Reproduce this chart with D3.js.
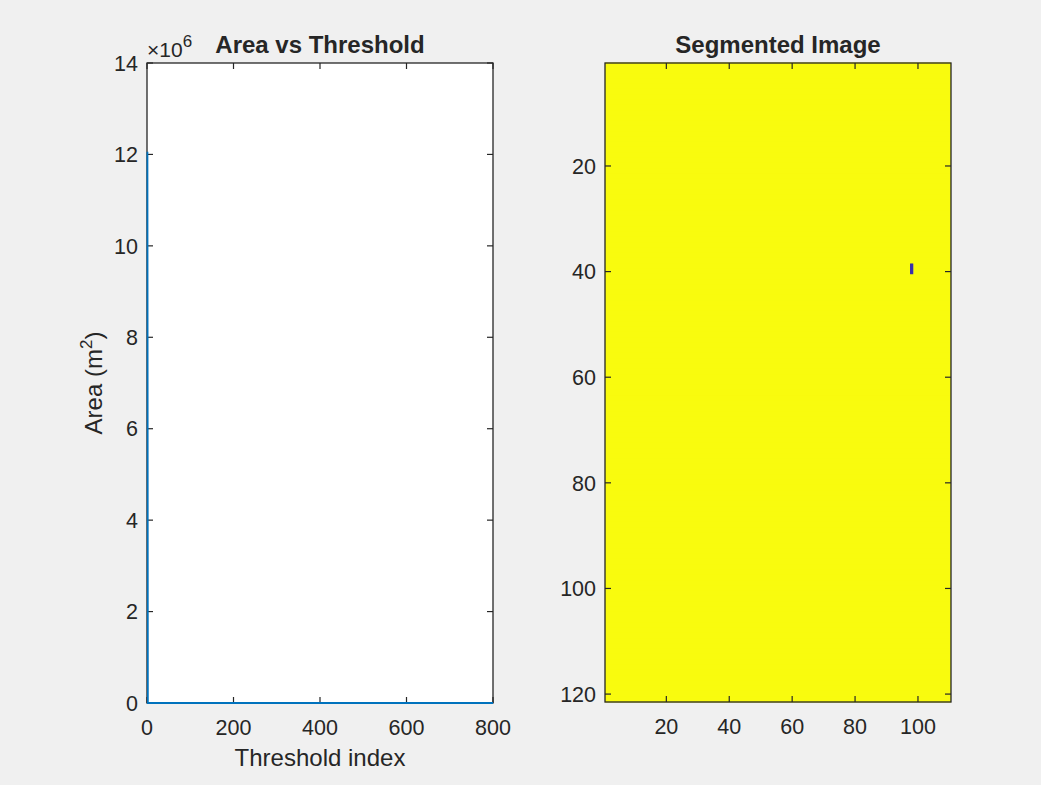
<!DOCTYPE html>
<html>
<head>
<meta charset="utf-8">
<script src="https://cdn.jsdelivr.net/npm/d3@7"></script>
<style>
  html, body { margin: 0; padding: 0; background: #F0F0F0; }
  svg { display: block; }
  text { font-family: "Liberation Sans", Arial, Helvetica, sans-serif; fill: #262626; }
</style>
</head>
<body>
<script>
// ---------- data ----------
// Area vs Threshold (sparse description of the plotted curve)
const thresholdIndex = [1, 2, 800];
const areaValues = [12.06e6, 0, 0];
const areaXTicks = [0, 200, 400, 600, 800];
const areaYTicks = [0, 2e6, 4e6, 6e6, 8e6, 10e6, 12e6, 14e6];
const areaExponent = 6;

// Segmented image (binary, 121 rows x 110 columns)
const imageRows = 121;
const imageCols = 110;
const backgroundValue = 1;
const blobPixels = [[98, 39], [98, 40]]; // [column, row] pixels with value 0
const imageXTicks = [20, 40, 60, 80, 100];
const imageYTicks = [20, 40, 60, 80, 100, 120];
const colormap = ["#3A30AA", "#F9FB0E"];

// ---------- layout ----------
const W = 1041, H = 785;
const axisColor = "#262626";
const tickLen = 6;
const tickFont = 21.5, labelFont = 24, titleFont = 24;

const svg = d3.select("body").append("svg").attr("width", W).attr("height", H);
svg.append("rect").attr("width", W).attr("height", H).attr("fill", "#F0F0F0");

function boxAxes(g, x, y, xTicks, yTicks, xFmt, yFmt) {
  const [x0, x1] = x.range();
  const [yb, yt] = [Math.max(...y.range()), Math.min(...y.range())];
  const tk = g.append("g").attr("stroke", axisColor).attr("stroke-width", 1.2);
  xTicks.forEach(v => {
    const px = x(v);
    tk.append("line").attr("x1", px).attr("x2", px).attr("y1", yb).attr("y2", yb - tickLen);
    tk.append("line").attr("x1", px).attr("x2", px).attr("y1", yt).attr("y2", yt + tickLen);
  });
  yTicks.forEach(v => {
    const py = y(v);
    tk.append("line").attr("x1", x0).attr("x2", x0 + tickLen).attr("y1", py).attr("y2", py);
    tk.append("line").attr("x1", x1).attr("x2", x1 - tickLen).attr("y1", py).attr("y2", py);
  });
  g.append("rect").attr("x", x0).attr("y", yt).attr("width", x1 - x0).attr("height", yb - yt)
    .attr("fill", "none").attr("stroke", axisColor).attr("stroke-width", 1.3);
  g.append("g").selectAll("text").data(xTicks).join("text")
    .attr("x", d => x(d)).attr("y", yb + 32).attr("text-anchor", "middle")
    .attr("font-size", tickFont).attr("fill", "#333").text(xFmt);
  g.append("g").selectAll("text").data(yTicks).join("text")
    .attr("x", x0 - 9).attr("y", d => y(d)).attr("dy", "0.36em").attr("text-anchor", "end")
    .attr("font-size", tickFont).attr("fill", "#333").text(yFmt);
}

// ---------- left: Area vs Threshold ----------
{
  const x = d3.scaleLinear().domain([0, 800]).range([147, 493]);
  const y = d3.scaleLinear().domain([0, 14e6]).range([703, 63]);
  const g = svg.append("g");
  g.append("rect").attr("x", 147).attr("y", 63).attr("width", 346).attr("height", 640).attr("fill", "#FFFFFF");
  const pts = thresholdIndex.map((t, i) => [t, areaValues[i]]);
  boxAxes(g, x, y, areaXTicks, areaYTicks, d => d, d => d / Math.pow(10, areaExponent));
  g.append("path").datum(pts)
    .attr("d", d3.line().x(d => x(d[0])).y(d => y(d[1])))
    .attr("fill", "none").attr("stroke", "#0072BD").attr("stroke-width", 1.8);
  const ex = g.append("text").attr("x", 147).attr("y", 57).attr("font-size", 21).attr("fill", "#707070");
  ex.append("tspan").text("\u00D710");
  ex.append("tspan").attr("dy", -10).attr("font-size", 17).text(areaExponent);
  g.append("text").attr("x", 320).attr("y", 53).attr("text-anchor", "middle")
    .attr("font-size", titleFont).attr("font-weight", "bold").attr("fill", "#111").text("Area vs Threshold");
  g.append("text").attr("x", 320).attr("y", 766).attr("text-anchor", "middle")
    .attr("font-size", labelFont).attr("fill", "#333").text("Threshold index");
  const yl = g.append("text").attr("transform", "translate(102,383) rotate(-90)")
    .attr("text-anchor", "middle").attr("font-size", labelFont).attr("fill", "#333");
  yl.append("tspan").text("Area (m");
  yl.append("tspan").attr("dy", -10).attr("font-size", 17).text("2");
  yl.append("tspan").attr("dy", 10).text(")");
}

// ---------- right: Segmented Image ----------
{
  const x = d3.scaleLinear().domain([0.5, imageCols + 0.5]).range([605, 951]);
  const y = d3.scaleLinear().domain([0.5, imageRows + 0.5]).range([63, 702]);
  const color = d3.scaleOrdinal().domain([0, 1]).range(colormap);
  const matrix = d3.range(imageRows).map(() => d3.range(imageCols).map(() => backgroundValue));
  blobPixels.forEach(([c, r]) => { matrix[r - 1][c - 1] = 0; });
  const segs = [];
  matrix.forEach((row, ri) => {
    let start = 0;
    for (let c = 1; c <= imageCols; c++) {
      if (c === imageCols || row[c] !== row[start]) {
        segs.push({ r: ri + 1, c0: start + 1, c1: c, v: row[start] });
        start = c;
      }
    }
  });
  const g = svg.append("g");
  g.append("g").selectAll("rect").data(segs).join("rect")
    .attr("x", d => x(d.c0 - 0.5)).attr("width", d => x(d.c1 + 0.5) - x(d.c0 - 0.5))
    .attr("y", d => y(d.r - 0.5) - (d.v === backgroundValue ? 0.5 : 0))
    .attr("height", d => y(d.r + 0.5) - y(d.r - 0.5) + (d.v === backgroundValue ? 1 : 0))
    .attr("fill", d => color(d.v));
  g.append("g").selectAll("rect").data(segs.filter(d => d.v !== backgroundValue)).join("rect")
    .attr("x", d => x(d.c0 - 0.5)).attr("width", d => x(d.c1 + 0.5) - x(d.c0 - 0.5))
    .attr("y", d => y(d.r - 0.5)).attr("height", d => y(d.r + 0.5) - y(d.r - 0.5))
    .attr("fill", d => color(d.v));
  const ys = d3.scaleLinear().domain([imageRows + 0.5, 0.5]).range([702, 63]);
  boxAxes(g, x, ys, imageXTicks, imageYTicks, d => d, d => d);
  g.append("text").attr("x", 778).attr("y", 53).attr("text-anchor", "middle")
    .attr("font-size", titleFont).attr("font-weight", "bold").attr("fill", "#111").text("Segmented Image");
}
</script>
</body>
</html>
